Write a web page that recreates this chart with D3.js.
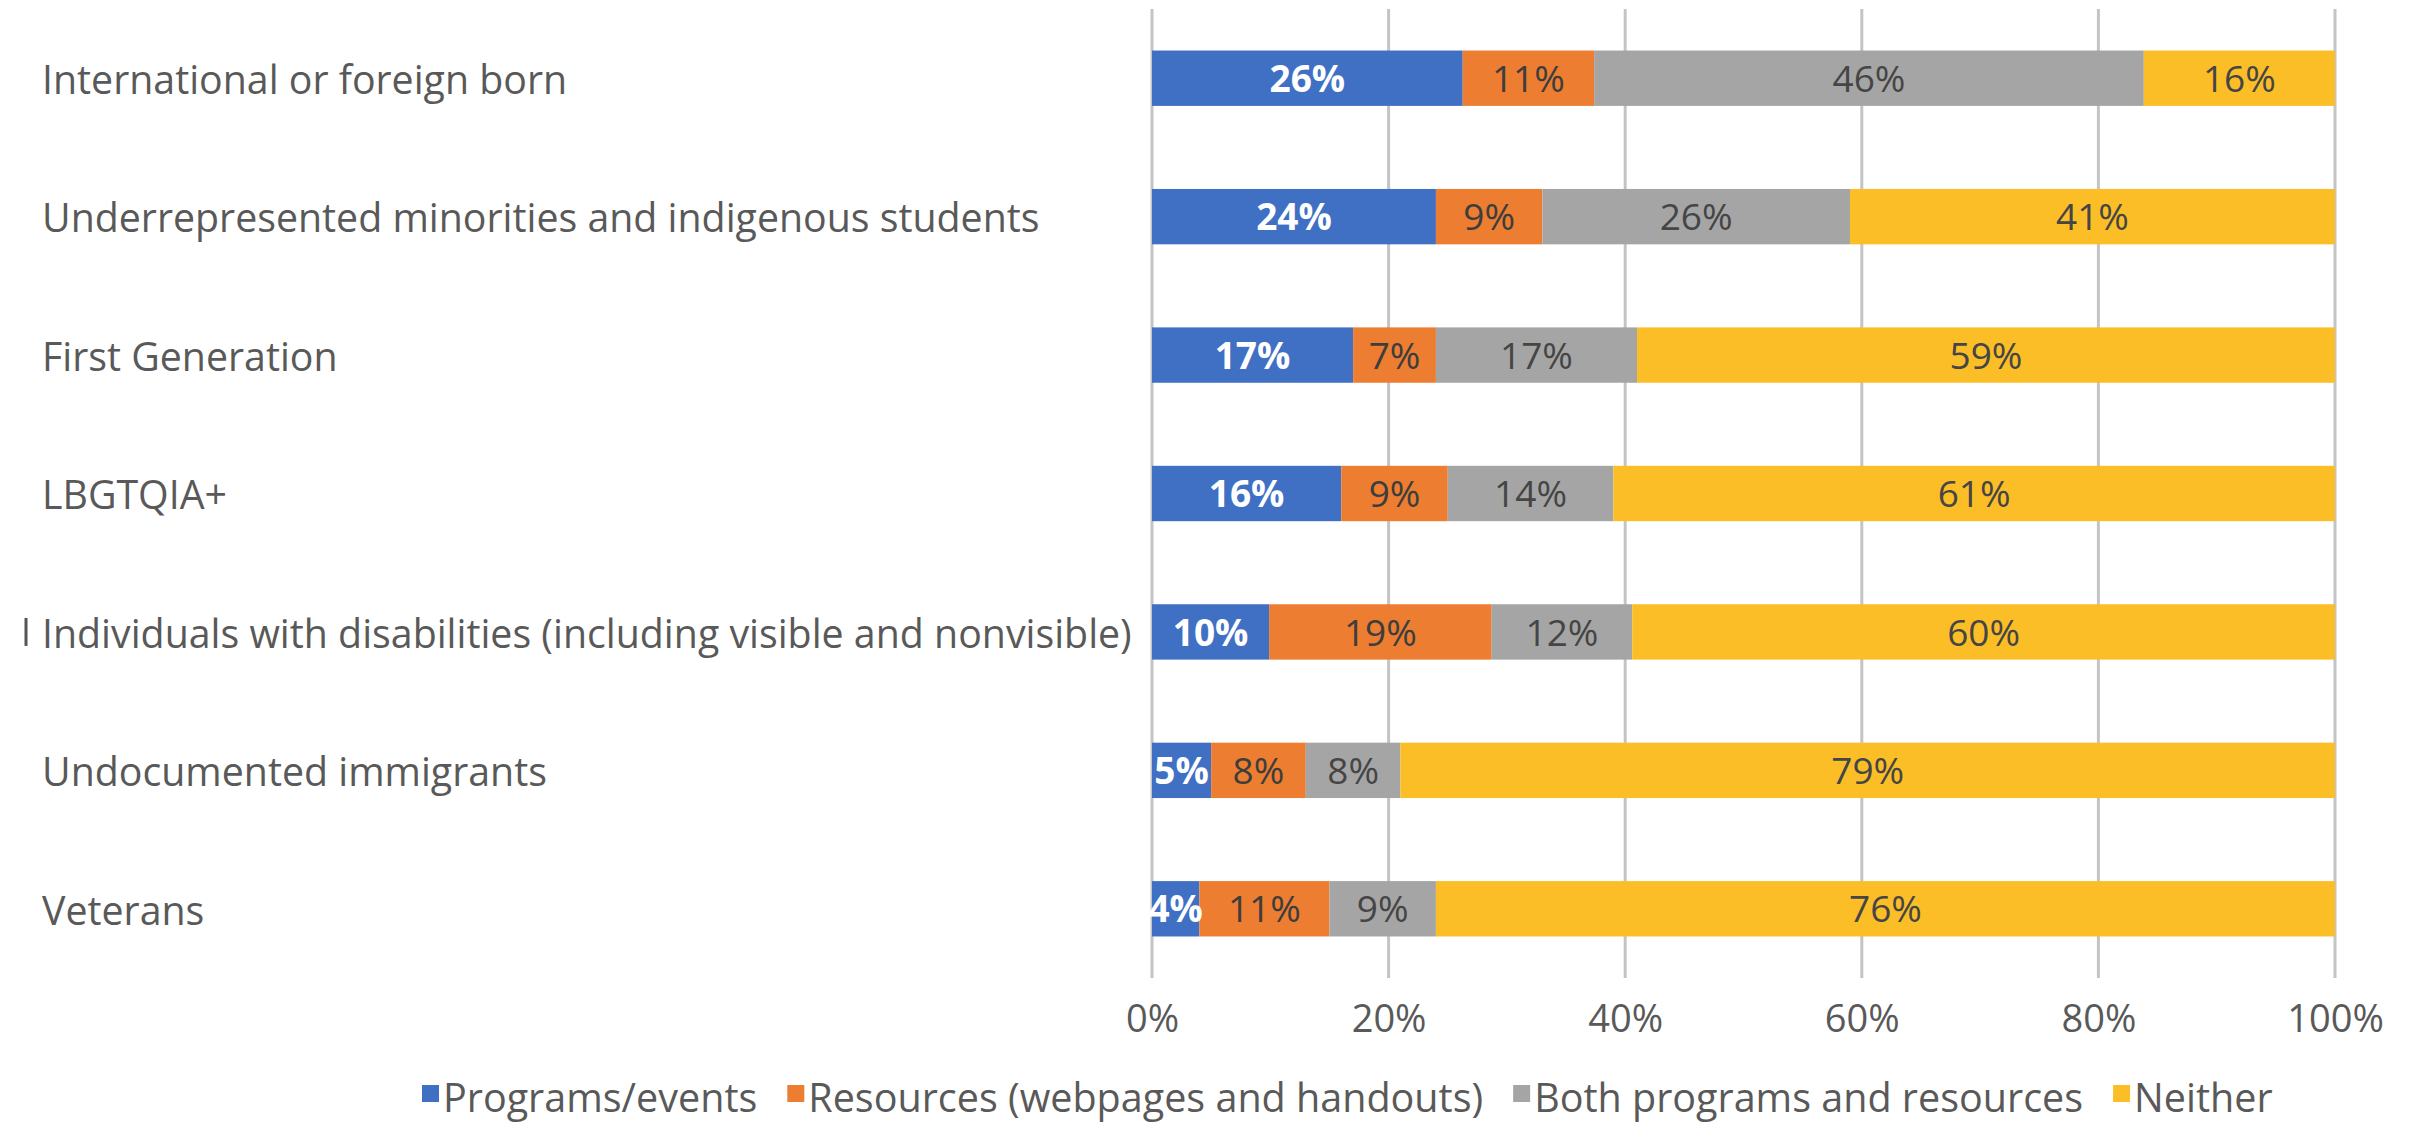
<!DOCTYPE html>
<html>
<head>
<meta charset="utf-8">
<script src="https://cdn.jsdelivr.net/npm/d3@7"></script>
<style>
  html, body { margin: 0; padding: 0; background: #ffffff; }
  svg { display: block; }
  text { font-family: "Open Sans", "Noto Sans", sans-serif; }
</style>
</head>
<body>
<svg id="chart" width="2415" height="1125"></svg>
<script>
// Student groups, top to bottom
const categories = [
  "International or foreign born",
  "Underrepresented minorities and indigenous students",
  "First Generation",
  "LBGTQIA+",
  "Individuals with disabilities (including visible and nonvisible)",
  "Undocumented immigrants",
  "Veterans"
];

// Series names (legend order)
const seriesNames = [
  "Programs/events",
  "Resources (webpages and handouts)",
  "Both programs and resources",
  "Neither"
];

// Percentages per series, one entry per category
const programsEvents = [26, 24, 17, 16, 10, 5, 4];
const resources      = [11, 9, 7, 9, 19, 8, 11];
const bothPrograms   = [46, 26, 17, 14, 12, 8, 9];
const neither        = [16, 41, 59, 61, 60, 79, 76];

// Axis tick values and labels
const tickValues = [0, 0.2, 0.4, 0.6, 0.8, 1.0];
const tickLabels = ["0%", "20%", "40%", "60%", "80%", "100%"];

const seriesValues = [programsEvents, resources, bothPrograms, neither];
const colors = ["#3F70C4", "#ED7D31", "#A5A5A5", "#FCBE27"];
const labelColors = ["#ffffff", "#3d3d3d", "#454545", "#454545"];
const labelWeights = ["700", "400", "400", "400"];

const svg = d3.select("#chart");

// Table for a 100% stacked layout: each row is normalised by its total
const rows = categories.map((c, i) => {
  const row = { category: c };
  const total = d3.sum(seriesValues, s => s[i]);
  seriesNames.forEach((name, k) => { row[name] = seriesValues[k][i] / total; });
  row._raw = seriesValues.map(s => s[i]);
  return row;
});

const stacked = d3.stack().keys(seriesNames)(rows);

const x = d3.scaleLinear().domain([0, 1]).range([1152, 2335]);
const y = d3.scaleBand().domain(categories).range([9, 978])
  .paddingInner(0.6).paddingOuter(0.3);

// Vertical gridlines
svg.append("g")
  .selectAll("line")
  .data(tickValues)
  .join("line")
  .attr("x1", d => x(d)).attr("x2", d => x(d))
  .attr("y1", 9).attr("y2", 978)
  .attr("stroke", "#c4c4c4")
  .attr("stroke-width", 3);

// Bars
const layers = svg.append("g")
  .selectAll("g")
  .data(stacked)
  .join("g")
  .attr("fill", (d, k) => colors[k]);

layers.selectAll("rect")
  .data(d => d)
  .join("rect")
  .attr("x", d => x(d[0]))
  .attr("width", d => x(d[1]) - x(d[0]))
  .attr("y", d => y(d.data.category))
  .attr("height", y.bandwidth());

// Data labels inside each segment
const labelGroups = svg.append("g")
  .selectAll("g")
  .data(stacked)
  .join("g");

labelGroups.each(function(layer, k) {
  d3.select(this).selectAll("text")
    .data(layer)
    .join("text")
    .attr("x", d => (x(d[0]) + x(d[1])) / 2)
    .attr("y", d => y(d.data.category) + y.bandwidth() / 2)
    .attr("dy", "0.37em")
    .attr("text-anchor", "middle")
    .attr("font-size", 37)
    .attr("font-weight", labelWeights[k])
    .attr("fill", labelColors[k])
    .text(d => d.data._raw[k] + "%");
});

// Category labels
svg.append("g")
  .selectAll("text")
  .data(categories)
  .join("text")
  .attr("x", 42)
  .attr("y", d => y(d) + y.bandwidth() / 2)
  .attr("dy", "0.4em")
  .attr("font-size", 39.3)
  .attr("fill", "#595959")
  .text(d => d);

// Small vertical mark left of the disabilities label
svg.append("line")
  .attr("x1", 26).attr("x2", 26)
  .attr("y1", y(categories[4]) + y.bandwidth() / 2 - 14)
  .attr("y2", y(categories[4]) + y.bandwidth() / 2 + 14)
  .attr("stroke", "#555555")
  .attr("stroke-width", 3);

// Bottom axis labels
const axis = d3.axisBottom(x)
  .tickValues(tickValues)
  .tickFormat((d, i) => tickLabels[i])
  .tickSize(0)
  .tickPadding(0);

const axisG = svg.append("g")
  .attr("transform", "translate(0,1000)")
  .call(axis);
axisG.select(".domain").remove();
axisG.selectAll("text")
  .attr("font-family", "\"Open Sans\", sans-serif")
  .attr("font-size", 38)
  .attr("fill", "#595959")
  .attr("dy", "0.85em");

// Legend
const legend = svg.append("g");
let cursor = 422;
seriesNames.forEach((name, k) => {
  const item = legend.append("g");
  item.append("rect")
    .attr("x", cursor).attr("y", 1085)
    .attr("width", 17).attr("height", 17)
    .attr("fill", colors[k]);
  const t = item.append("text")
    .attr("x", cursor + 21)
    .attr("y", 1112)
    .attr("font-size", 39.5)
    .attr("fill", "#595959")
    .text(name);
  cursor += 21 + t.node().getComputedTextLength() + 30;
});
</script>
</body>
</html>
